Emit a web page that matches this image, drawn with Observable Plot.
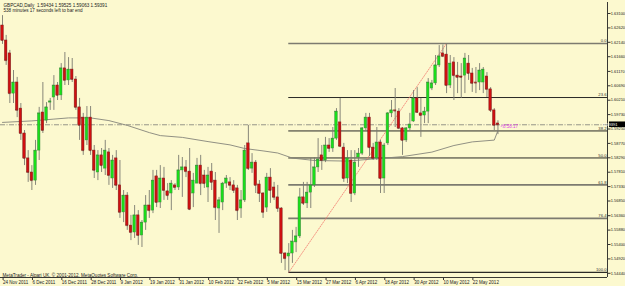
<!DOCTYPE html>
<html><head><meta charset="utf-8">
<script src="https://cdn.jsdelivr.net/npm/d3@7"></script>
<script src="https://cdn.jsdelivr.net/npm/@observablehq/plot@0.6"></script>
<style>
html,body{margin:0;padding:0;background:#FCF9CF;}
#chart svg{display:block}
</style></head><body><div id="chart"></div>
<script>
// ---- data ----
const symbol = "GBPCAD,Daily";
const lastBar = [1.59434, 1.59525, 1.59063, 1.59391];
const timerText = "538 minutes 17 seconds left to bar end";
const clockText = "<8:58:17";
const copyright = "MetaTrader - Alpari UK, \u00a9 2001-2012, MetaQuotes Software Corp.";

const opens = [
1.6270,1.6220,1.6177,1.6043,1.6080,1.5993,1.5910,1.5827,1.5780,1.5753,
1.5853,1.5980,1.5953,1.6013,1.6030,1.6070,1.6037,1.6127,1.6087,1.6123,
1.6090,1.5997,1.5963,1.5887,1.5963,1.5853,1.5780,1.5837,1.5793,1.5847,
1.5760,1.5827,1.5737,1.5647,1.5703,1.5603,1.5580,1.5637,1.5570,1.5613,
1.5670,1.5653,1.5767,1.5680,1.5760,1.5717,1.5710,1.5737,1.5730,1.5787,
1.5797,1.5783,1.5710,1.5743,1.5803,1.5770,1.5730,1.5783,1.5753,1.5660,
1.5680,1.5743,1.5747,1.5737,1.5727,1.5660,1.5687,1.5877,1.5793,1.5813,
1.5740,1.5710,1.5663,1.5763,1.5730,1.5697,1.5660,1.5510,1.5500,1.5510,
1.5547,1.5567,1.5697,1.5677,1.5713,1.5737,1.5797,1.5837,1.5820,1.5870,
1.5860,1.5893,1.5947,1.5863,1.5760,1.5820,1.5710,1.5830,1.5843,1.5927,
1.5963,1.5863,1.5827,1.5880,1.5760,1.5877,1.5977,1.5987,1.5983,1.5927,
1.5887,1.5927,1.5950,1.6027,1.5977,1.5970,1.5983,1.6060,1.6077,1.6137,
1.6177,1.6173,1.6070,1.6147,1.6103,1.6100,1.6103,1.6143,1.6110,1.6080,
1.6080,1.6080,1.6100,1.6057,1.5987,1.59434];
const highs = [
1.6303,1.6237,1.6187,1.6120,1.6097,1.6010,1.5920,1.5853,1.5803,1.5887,
1.5997,1.6080,1.6013,1.6027,1.6103,1.6080,1.6143,1.6180,1.6163,1.6160,
1.6100,1.6027,1.5977,1.6000,1.6000,1.5870,1.5853,1.5860,1.5887,1.5860,
1.5837,1.5853,1.5820,1.5720,1.5713,1.5637,1.5670,1.5653,1.5620,1.5703,
1.5720,1.5787,1.5787,1.5803,1.5797,1.5743,1.5753,1.5743,1.5837,1.5830,
1.5820,1.5860,1.5777,1.5827,1.5837,1.5787,1.5797,1.5810,1.5780,1.5697,
1.5747,1.5770,1.5763,1.5753,1.5737,1.5720,1.5870,1.5937,1.5843,1.5820,
1.5753,1.5713,1.5777,1.5793,1.5747,1.5737,1.5663,1.5513,1.5543,1.5587,
1.5597,1.5727,1.5747,1.5747,1.5827,1.5830,1.5893,1.5870,1.5897,1.5893,
1.5930,1.5993,1.6027,1.5877,1.5853,1.5853,1.5853,1.5860,1.5930,1.5977,
1.5977,1.5877,1.5930,1.5887,1.5877,1.5980,1.6020,1.6060,1.5993,1.5930,
1.5930,1.5977,1.6053,1.6063,1.6027,1.5997,1.6093,1.6087,1.6170,1.6203,
1.6205,1.6210,1.6170,1.6163,1.6147,1.6143,1.6177,1.6170,1.6127,1.6130,
1.6143,1.6130,1.6113,1.6063,1.5993,1.59525];
const lows = [
1.6207,1.6137,1.6010,1.6010,1.5963,1.5887,1.5803,1.5747,1.5720,1.5737,
1.5820,1.5910,1.5943,1.5987,1.5987,1.6020,1.6020,1.6070,1.6070,1.6080,
1.5987,1.5887,1.5837,1.5870,1.5837,1.5760,1.5753,1.5780,1.5770,1.5737,
1.5727,1.5720,1.5627,1.5613,1.5587,1.5553,1.5560,1.5537,1.5530,1.5587,
1.5627,1.5643,1.5663,1.5660,1.5687,1.5687,1.5653,1.5720,1.5720,1.5697,
1.5763,1.5653,1.5663,1.5743,1.5703,1.5727,1.5680,1.5720,1.5620,1.5577,
1.5653,1.5727,1.5720,1.5710,1.5620,1.5627,1.5680,1.5787,1.5777,1.5710,
1.5680,1.5627,1.5647,1.5677,1.5687,1.5647,1.5477,1.5453,1.5447,1.5477,
1.5513,1.5560,1.5670,1.5660,1.5660,1.5730,1.5780,1.5787,1.5813,1.5847,
1.5847,1.5887,1.5863,1.5747,1.5743,1.5680,1.5703,1.5797,1.5837,1.5920,
1.5833,1.5820,1.5820,1.5710,1.5710,1.5870,1.5963,1.5930,1.5923,1.5837,
1.5880,1.5920,1.5947,1.5977,1.5897,1.5943,1.5943,1.6053,1.6070,1.6130,
1.6163,1.6043,1.6060,1.6020,1.6043,1.6027,1.6043,1.6087,1.6047,1.6043,
1.6053,1.6043,1.6030,1.5980,1.5920,1.59063];
const closes = [
1.6220,1.6153,1.6043,1.6080,1.5987,1.5910,1.5827,1.5780,1.5753,1.5853,
1.5977,1.5920,1.5997,1.6017,1.6070,1.6037,1.6127,1.6087,1.6123,1.6090,
1.5997,1.5937,1.5853,1.5963,1.5853,1.5787,1.5837,1.5803,1.5853,1.5770,
1.5820,1.5737,1.5647,1.5703,1.5603,1.5580,1.5637,1.5570,1.5613,1.5670,
1.5653,1.5753,1.5680,1.5760,1.5720,1.5703,1.5743,1.5730,1.5787,1.5797,
1.5783,1.5657,1.5753,1.5803,1.5743,1.5743,1.5770,1.5747,1.5663,1.5687,
1.5743,1.5760,1.5737,1.5720,1.5653,1.5687,1.5853,1.5793,1.5813,1.5737,
1.5710,1.5647,1.5763,1.5720,1.5697,1.5660,1.5510,1.5493,1.5510,1.5550,
1.5567,1.5697,1.5677,1.5713,1.5737,1.5797,1.5823,1.5820,1.5870,1.5860,
1.5893,1.5983,1.5867,1.5760,1.5827,1.5710,1.5813,1.5843,1.5927,1.5963,
1.5863,1.5827,1.5880,1.5760,1.5870,1.5977,1.5987,1.5985,1.5927,1.5887,
1.5927,1.5940,1.6027,1.5980,1.5970,1.5983,1.6080,1.6077,1.6137,1.6167,
1.6167,1.6070,1.6143,1.6103,1.6097,1.6097,1.6160,1.6110,1.6077,1.6078,
1.6120,1.6123,1.6057,1.5987,1.5937,1.59391];

// moving average (sampled along the curve)
const maIdx = [0, 8, 14, 18, 24, 29, 34, 40, 43, 49, 56, 62, 66, 71, 75, 79, 85, 94, 103, 109, 117, 123, 128, 134, 135];
const maVal = [1.5947,1.5952,1.5958,1.5962,1.5962,1.5953,1.5937,1.5913,1.5903,1.5897,1.5883,1.5872,1.5860,1.5852,1.5845,1.5828,1.5820,1.5818,1.5827,1.5833,1.5848,1.5870,1.5882,1.5888,1.5920];

// Fibonacci retracement
const fibLevels = [0, 23.6, 38.2, 50, 61.8, 76.4, 100];
const fibHigh = 1.6210, fibLow = 1.5447;
const fibLowBar = 78, fibHighBar = 121;

// axes
const yTicks = [1.63100,1.62620,1.62140,1.61660,1.61170,1.60690,1.60210,1.59730,1.59250,1.58770,1.58290,1.57810,1.57330,1.56850,1.56360,1.55880,1.55400,1.54920,1.54440];
const xTickIdx = [0,8,16,24,32,40,48,56,64,72,80,88,96,104,112,120,128];
const xTickLabels = ["24 Nov 2011","6 Dec 2011","16 Dec 2011","28 Dec 2011","9 Jan 2012","19 Jan 2012","31 Jan 2012","10 Feb 2012","22 Feb 2012","5 Mar 2012","15 Mar 2012","27 Mar 2012","6 Apr 2012","18 Apr 2012","30 Apr 2012","10 May 2012","22 May 2012"];

// ---- styles ----
const fibStroke = {0: "#7c7b70", 23.6: "#2a2a26", 38.2: "#2a2a26", 50: "#2a2a26", 61.8: "#7c7b70", 76.4: "#7c7b70", 100: "#2a2a26"};
const fibWidth = {0: 1.7, 23.6: 1, 38.2: 1, 50: 1, 61.8: 1.7, 76.4: 1.7, 100: 1.1};
const FONT = "'Liberation Sans', Arial, sans-serif";

// ---- build ----
const bid = lastBar[3];
const lastIdx = opens.length - 1;
const bars = d3.range(opens.length).map(i => ({i, o: opens[i], h: highs[i], l: lows[i], c: closes[i]}));
const up = d => d.c >= d.o;
const fib = fibLevels.map(lv => ({lv, p: fibHigh - (fibHigh - fibLow) * lv / 100, label: lv.toFixed(1)}));
const ma = maIdx.map((i, k) => ({i, v: maVal[k]}));
const xDomain = [-0.545, 164.85];
const yDomain = [1.5430, 1.63467];
const fmt5 = d3.format(".5f");
const header = `${symbol}  ${lastBar.map(fmt5).join(" ")}`;

const chart = Plot.plot({
  width: 625, height: 286,
  marginLeft: 0, marginRight: 18, marginTop: 2, marginBottom: 9,
  x: {domain: xDomain, axis: null, label: null},
  y: {domain: yDomain, axis: null, label: null},
  color: {type: "identity"},
  style: {background: "transparent", color: "#111", fontFamily: FONT, fontSize: "4.5px", overflow: "visible"},
  marks: [
    Plot.ruleY([bid], {stroke: "#8b8a80", strokeWidth: 0.9, strokeDasharray: "5,1.5,1,1.5"}),
    Plot.ruleY(fib, {y: "p", x1: fibLowBar, x2: xDomain[1], stroke: d => fibStroke[d.lv], strokeWidth: d => fibWidth[d.lv]}),
    Plot.text(fib, {x: xDomain[1], y: "p", text: "label", textAnchor: "end", dx: -1, dy: -2.6, fontSize: 4.2, fill: "#333"}),
    Plot.line([{i: fibLowBar, p: fibLow}, {i: fibHighBar, p: fibHigh}], {x: "i", y: "p", stroke: "#f27a6e", strokeWidth: 0.8, strokeDasharray: "1,1.3"}),
    Plot.line(ma, {x: "i", y: "v", stroke: "#85847a", strokeWidth: 0.9, curve: "linear"}),
    Plot.ruleX(bars, {x: "i", y1: "l", y2: "h", stroke: "#7a7a70", strokeWidth: 0.9}),
    Plot.rect(bars, {x1: d => d.i - 0.34, x2: d => d.i + 0.34, y1: "o", y2: "c",
      fill: d => up(d) ? "#19e019" : "#d01010", stroke: d => up(d) ? "#3c8c3c" : "#7a1a1a", strokeWidth: 0.5}),
    Plot.ruleY(bars, {y: "c", x1: d => d.i - 0.34, x2: d => d.i + 0.34, stroke: d => up(d) ? "#3c8c3c" : "#7a1a1a", strokeWidth: 0.6}),
    Plot.text([clockText], {x: lastIdx, y: bid, text: d => d, textAnchor: "start", dx: 2.5, dy: 1.6, fontSize: 4.5, fill: "#e040e8"}),
    Plot.ruleX([xDomain[1]], {stroke: "#222", strokeWidth: 0.9}),
    Plot.ruleY([yDomain[0]], {stroke: "#222", strokeWidth: 0.9}),
    Plot.axisY(yTicks, {anchor: "right", label: null, tickSize: 2.5, tickPadding: 0.8, tickFormat: fmt5, fontSize: 3.95, fill: "#222", stroke: "#333"}),
    Plot.axisX(xTickIdx, {anchor: "bottom", label: null, tickSize: 3, tickPadding: 0.3, tickFormat: d => xTickLabels[xTickIdx.indexOf(d)], textAnchor: "start", dx: 0.6, fontSize: 4.5, fill: "#222", stroke: "#333"}),
    Plot.text([header], {frameAnchor: "top-left", dx: 3, dy: 1, lineAnchor: "top", text: d => d, fontSize: 4.6, fill: "#222"}),
    Plot.text([timerText], {frameAnchor: "top-left", dx: 3, dy: 6.2, lineAnchor: "top", text: d => d, fontSize: 4.6, fill: "#222"}),
    Plot.text([copyright], {frameAnchor: "bottom-left", dx: 2, dy: -1, lineAnchor: "bottom", text: d => d, fontSize: 4.6, fill: "#222"})
  ]
});
document.getElementById("chart").append(chart);

// bid price label on the price axis
const sy = chart.scale("y"), sx = chart.scale("x");
const by = sy.apply(bid), bx = sx.apply(xDomain[1]);
const g = d3.select(chart).append("g");
g.append("rect").attr("x", bx + 2).attr("y", by - 2.8).attr("width", 16).attr("height", 5.6).attr("fill", "#000");
g.append("text").attr("x", bx + 3.3).attr("y", by).attr("dy", "0.35em").attr("fill", "#fff")
  .attr("font-size", 3.95).attr("font-family", FONT).text(fmt5(bid));
</script></body></html>
